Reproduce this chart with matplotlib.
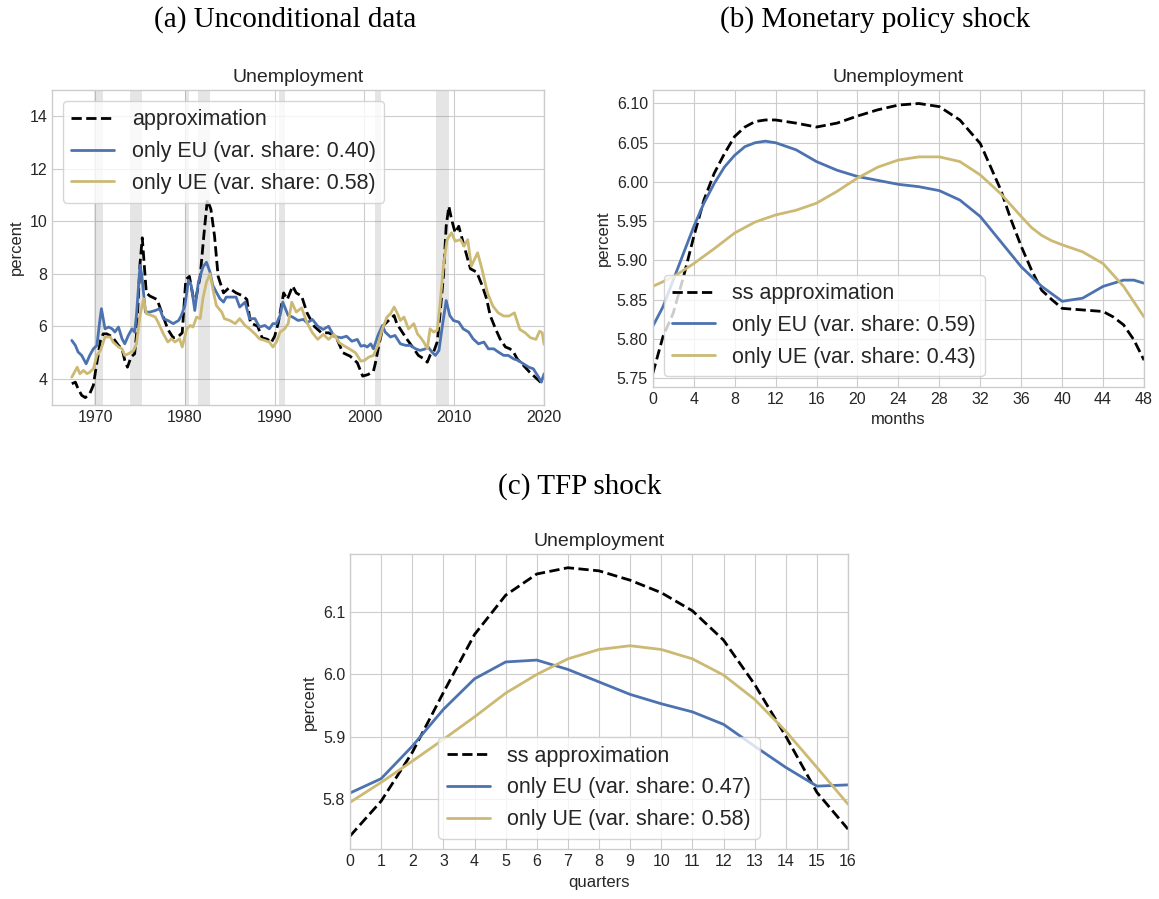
import numpy as np
import matplotlib
matplotlib.use("Agg")
import matplotlib.pyplot as plt

# ---- (a) unconditional data: decimal years and unemployment rates ----
yr_approx = [1967.4, 1967.8, 1968.1, 1968.5, 1968.9, 1969.4, 1969.8, 1970.2, 1970.6, 1970.9,
             1971.3, 1971.9, 1972.2, 1972.6, 1973.0, 1973.3, 1973.6, 1974.0, 1974.4, 1974.6,
             1975.0, 1975.25, 1975.7, 1976.1, 1976.9, 1977.3, 1978.1, 1978.7, 1979.3, 1979.7,
             1980.1, 1980.5, 1980.9, 1981.2, 1981.7, 1982.1, 1982.5, 1982.9, 1983.3, 1983.7,
             1984.3, 1984.9, 1985.7, 1986.5, 1986.9, 1987.3, 1988.1, 1988.6, 1989.2, 1989.6,
             1990.0, 1990.4, 1991.0, 1991.4, 1992.0, 1992.4, 1993.0, 1993.6, 1994.4, 1995.2,
             1996.0, 1996.8, 1997.6, 1998.4, 1999.2, 1999.8, 2000.4, 2001.0, 2001.2, 2001.6,
             2002.1, 2002.9, 2003.3, 2003.6, 2004.2, 2004.7, 2005.5, 2006.0, 2006.6, 2007.0,
             2007.3, 2007.7, 2008.1, 2008.4, 2008.8, 2009.1, 2009.4, 2009.7, 2010.1, 2010.5,
             2011.1, 2011.8, 2012.5, 2013.1, 2013.6, 2014.0, 2014.6, 2015.1, 2015.7, 2016.2,
             2016.6, 2017.0, 2017.7, 2018.4, 2019.2, 2020.0]
u_approx = [3.81, 3.87, 3.62, 3.37, 3.28, 3.43, 3.75, 4.63, 5.46, 5.71,
            5.71, 5.60, 5.46, 5.27, 5.14, 4.70, 4.44, 4.83, 4.95, 5.65,
            8.38, 9.37, 7.27, 7.15, 7.02, 6.64, 5.88, 5.56, 5.62, 5.75,
            7.78, 7.90, 7.15, 7.02, 7.90, 9.43, 10.83, 10.45, 9.43, 7.90,
            7.27, 7.46, 7.27, 7.15, 7.02, 6.13, 6.00, 5.56, 5.50, 5.37,
            5.62, 6.13, 7.27, 7.02, 7.53, 7.27, 7.15, 6.51, 6.00, 5.75,
            5.75, 5.62, 4.99, 4.86, 4.61, 4.10, 4.16, 4.29, 4.57, 5.27,
            6.03, 6.29, 6.41, 6.10, 5.78, 5.52, 5.14, 4.89, 4.76, 4.63,
            4.89, 5.02, 5.40, 6.41, 7.94, 9.81, 10.57, 10.07, 9.56, 9.81,
            9.05, 8.19, 8.06, 7.56, 7.05, 6.41, 5.90, 5.52, 5.21, 5.14,
            5.02, 4.76, 4.51, 4.25, 4.00, 3.75]

yr_eu = [1967.4, 1967.8, 1968.1, 1968.5, 1969.0, 1969.4, 1969.8, 1970.2, 1970.5, 1970.7,
         1971.1, 1971.5, 1971.9, 1972.2, 1972.6, 1973.0, 1973.3, 1973.7, 1974.1, 1974.4,
         1974.6, 1975.0, 1975.2, 1975.6, 1976.1, 1976.7, 1977.2, 1977.6, 1978.1, 1978.7,
         1979.3, 1979.6, 1980.0, 1980.4, 1980.7, 1981.1, 1981.5, 1982.0, 1982.4, 1982.8,
         1983.1, 1983.5, 1983.9, 1984.3, 1984.6, 1985.2, 1985.7, 1986.1, 1986.7, 1987.2,
         1987.8, 1988.3, 1988.9, 1989.4, 1989.8, 1990.2, 1990.6, 1990.9, 1991.5, 1992.0,
         1992.6, 1993.2, 1993.6, 1994.2, 1994.8, 1995.4, 1996.0, 1996.6, 1997.4, 1998.0,
         1998.6, 1999.2, 1999.6, 2000.0, 2000.3, 2000.7, 2001.0, 2001.5, 2002.0, 2002.3,
         2002.9, 2003.4, 2004.0, 2004.6, 2005.1, 2005.7, 2006.2, 2006.8, 2007.1, 2007.5,
         2007.9, 2008.3, 2008.6, 2009.1, 2009.5, 2009.9, 2010.5, 2011.0, 2011.6, 2012.1,
         2012.7, 2013.3, 2013.8, 2014.4, 2014.9, 2015.5, 2016.0, 2016.6, 2017.1, 2017.7,
         2018.3, 2018.8, 2019.4, 2019.7, 2020.0]
u_eu = [5.46, 5.27, 5.02, 4.89, 4.57, 4.89, 5.14, 5.27, 6.16, 6.67,
        5.90, 5.97, 5.90, 5.78, 5.97, 5.52, 5.33, 5.65, 5.90, 5.78,
        6.41, 8.32, 7.94, 6.54, 6.54, 6.60, 6.67, 6.29, 6.22, 6.10,
        6.22, 6.41, 6.79, 7.75, 7.56, 6.60, 7.68, 8.25, 8.44, 8.06,
        7.56, 7.30, 7.05, 6.92, 7.11, 7.11, 7.11, 6.73, 6.92, 6.29,
        6.29, 5.97, 6.03, 5.90, 6.10, 6.10, 6.41, 6.92, 6.41, 6.35,
        6.22, 6.26, 6.13, 6.26, 6.00, 5.88, 6.00, 5.62, 5.56, 5.62,
        5.43, 5.50, 5.24, 5.27, 5.21, 5.33, 5.14, 5.65, 6.03, 5.78,
        5.59, 5.65, 5.33, 5.27, 5.27, 5.14, 5.08, 5.14, 5.21, 5.02,
        4.89, 5.08, 5.84, 6.98, 6.41, 6.22, 6.16, 5.90, 5.78, 5.52,
        5.33, 5.40, 5.14, 5.14, 5.02, 4.89, 4.89, 4.76, 4.70, 4.57,
        4.44, 4.38, 4.06, 3.87, 4.19]

yr_ue = [1967.4, 1968.0, 1968.3, 1968.7, 1969.1, 1969.4, 1969.8, 1970.2, 1970.6, 1971.1,
         1971.7, 1972.0, 1972.6, 1973.0, 1973.3, 1973.7, 1974.3, 1974.6, 1975.0, 1975.4,
         1975.7, 1976.3, 1976.7, 1977.0, 1977.6, 1978.1, 1978.5, 1978.9, 1979.4, 1979.7,
         1980.2, 1980.6, 1980.9, 1981.3, 1981.7, 1982.0, 1982.4, 1982.8, 1983.1, 1983.5,
         1984.1, 1984.4, 1985.0, 1985.6, 1986.1, 1986.7, 1987.2, 1987.8, 1988.3, 1988.9,
         1989.4, 1989.8, 1990.2, 1990.6, 1991.1, 1991.5, 1991.9, 1992.4, 1993.0, 1993.6,
         1994.2, 1994.8, 1995.4, 1996.0, 1996.6, 1997.2, 1997.8, 1998.4, 1999.0, 1999.6,
         2000.0, 2000.5, 2001.0, 2001.5, 2002.0, 2002.5, 2002.9, 2003.3, 2003.6, 2004.0,
         2004.4, 2004.9, 2005.5, 2005.9, 2006.2, 2006.6, 2007.0, 2007.3, 2007.7, 2008.1,
         2008.4, 2008.8, 2009.2, 2009.7, 2010.1, 2010.7, 2011.1, 2011.5, 2011.9, 2012.6,
         2013.1, 2013.7, 2014.3, 2014.9, 2015.5, 2016.1, 2016.7, 2017.3, 2017.9, 2018.5,
         2019.1, 2019.5, 2019.8, 2020.0]
u_ue = [4.06, 4.44, 4.19, 4.32, 4.19, 4.25, 4.38, 4.89, 5.08, 5.59,
        5.59, 5.40, 5.21, 5.14, 4.89, 4.95, 5.08, 5.33, 6.41, 7.05,
        6.48, 6.41, 6.35, 6.16, 5.71, 5.40, 5.52, 5.40, 5.52, 5.21,
        5.90, 6.03, 5.97, 6.35, 6.29, 7.05, 7.68, 8.00, 7.43, 6.79,
        6.54, 6.29, 6.22, 6.10, 6.29, 6.03, 5.90, 5.71, 5.52, 5.46,
        5.40, 5.21, 5.40, 5.78, 5.90, 6.10, 6.92, 6.54, 6.70, 6.13,
        5.75, 5.50, 5.69, 5.50, 5.69, 5.37, 5.24, 5.12, 4.99, 4.67,
        4.70, 4.83, 4.89, 5.27, 5.90, 6.35, 6.48, 6.73, 6.54, 6.22,
        6.35, 5.90, 6.10, 5.71, 5.59, 5.40, 5.14, 5.90, 5.78, 5.84,
        6.79, 8.32, 9.30, 9.56, 9.24, 9.30, 9.05, 9.30, 8.29, 8.80,
        8.16, 7.27, 6.77, 6.51, 6.39, 6.39, 6.51, 5.88, 5.75, 5.56,
        5.50, 5.81, 5.75, 5.31]

# NBER recession periods (start, end)
recessions = [(1969.92, 1970.83), (1973.83, 1975.17), (1980.0, 1980.5), (1981.5, 1982.83),
              (1990.5, 1991.17), (2001.17, 2001.83), (2007.92, 2009.42)]

# ---- (b) monetary policy shock, monthly horizon ----
months_approx = [0, 1, 2, 3, 4, 5, 6, 7, 8, 9, 10, 11, 12, 14, 16, 18, 20, 22, 24, 26, 28, 30,
                 32, 34, 35, 36, 37, 38, 39, 40, 42, 44, 45, 46, 47, 48]
mp_approx = [5.756, 5.803, 5.833, 5.879, 5.930, 5.977, 6.011, 6.036, 6.058, 6.070, 6.077,
             6.079, 6.079, 6.075, 6.070, 6.075, 6.084, 6.092, 6.098, 6.100, 6.096, 6.079,
             6.049, 5.990, 5.952, 5.918, 5.888, 5.862, 5.850, 5.839, 5.837, 5.835, 5.828,
             5.818, 5.799, 5.773]
months_eu = [0, 1, 2, 3, 4, 5, 6, 7, 8, 9, 10, 11, 12, 14, 16, 18, 20, 22, 24, 26, 28, 30,
             32, 34, 36, 38, 40, 42, 44, 46, 47, 48]
mp_eu = [5.816, 5.841, 5.875, 5.909, 5.943, 5.973, 5.998, 6.019, 6.034, 6.045, 6.050,
         6.052, 6.050, 6.041, 6.026, 6.015, 6.007, 6.002, 5.997, 5.994, 5.989, 5.977,
         5.956, 5.924, 5.892, 5.867, 5.848, 5.852, 5.867, 5.875, 5.875, 5.871]
months_ue = [0, 2, 4, 6, 8, 10, 12, 14, 16, 18, 20, 22, 24, 26, 28, 30, 32, 34, 36, 37, 38,
             39, 40, 42, 44, 46, 48]
mp_ue = [5.867, 5.879, 5.896, 5.915, 5.935, 5.949, 5.958, 5.964, 5.973, 5.988, 6.005,
         6.019, 6.028, 6.032, 6.032, 6.026, 6.009, 5.985, 5.956, 5.942, 5.932, 5.925,
         5.920, 5.911, 5.896, 5.867, 5.828]

# ---- (c) TFP shock, quarterly horizon ----
quarters = list(range(17))
tfp_approx = [5.741, 5.797, 5.875, 5.971, 6.064, 6.127, 6.161, 6.171, 6.166, 6.151, 6.131,
              6.102, 6.055, 5.984, 5.901, 5.811, 5.752]
tfp_eu = [5.810, 5.833, 5.885, 5.944, 5.993, 6.020, 6.023, 6.008, 5.988, 5.968, 5.953,
          5.940, 5.920, 5.885, 5.851, 5.821, 5.823]
tfp_ue = [5.795, 5.827, 5.861, 5.896, 5.932, 5.970, 6.000, 6.025, 6.040, 6.046, 6.040,
          6.025, 5.999, 5.960, 5.909, 5.851, 5.792]

plt.style.use("seaborn-v0_8-whitegrid")
plt.rcParams["font.family"] = ["Liberation Sans", "DejaVu Sans"]
plt.rcParams["xtick.labelsize"] = 11.5
plt.rcParams["ytick.labelsize"] = 11.5
plt.rcParams["axes.labelsize"] = 12
plt.rcParams["axes.titlesize"] = 14
plt.rcParams["text.color"] = ".15"

BLUE = "#4C72B0"
GOLD = "#CCB974"
LW = 2.0

fig = plt.figure(figsize=(11.59, 8.99), dpi=100)
ax_a = fig.add_axes([0.0449, 0.5495, 0.4245, 0.3504])
ax_b = fig.add_axes([0.5632, 0.5695, 0.4239, 0.3304])
ax_c = fig.add_axes([0.3020, 0.0551, 0.4297, 0.3283])

serif = ["Liberation Serif", "DejaVu Serif"]
fig.text(285 / 1159, 1 - 20 / 899, "(a) Unconditional data", ha="center", va="center",
         fontsize=21, family=serif, color="black")
fig.text(875 / 1159, 1 - 20 / 899, "(b) Monetary policy shock", ha="center", va="center",
         fontsize=21, family=serif, color="black")
fig.text(580 / 1159, 1 - 487 / 899, "(c) TFP shock", ha="center", va="center",
         fontsize=21, family=serif, color="black")

# (a)
for start, end in recessions:
    ax_a.axvspan(start, end, color="gray", alpha=0.2, lw=0)
ax_a.plot(yr_approx, u_approx, "k--", lw=LW, label="approximation")
ax_a.plot(yr_eu, u_eu, color=BLUE, lw=LW, label="only EU (var. share: 0.40)")
ax_a.plot(yr_ue, u_ue, color=GOLD, lw=LW, label="only UE (var. share: 0.58)")
ax_a.set_xlim(1965.2, 2020)
ax_a.set_ylim(3, 15)
ax_a.set_xticks([1970, 1980, 1990, 2000, 2010, 2020])
ax_a.set_yticks([4, 6, 8, 10, 12, 14])
ax_a.set_ylabel("percent")
ax_a.set_title("Unemployment")
ax_a.legend(loc="upper left", frameon=True, fontsize=15.5)

# (b)
ax_b.plot(months_approx, mp_approx, "k--", lw=LW, label="ss approximation")
ax_b.plot(months_eu, mp_eu, color=BLUE, lw=LW, label="only EU (var. share: 0.59)")
ax_b.plot(months_ue, mp_ue, color=GOLD, lw=LW, label="only UE (var. share: 0.43)")
ax_b.set_xlim(0, 48)
ax_b.set_xticks(np.arange(0, 49, 4))
ax_b.set_yticks([5.75, 5.80, 5.85, 5.90, 5.95, 6.00, 6.05, 6.10])
ax_b.yaxis.set_major_formatter(matplotlib.ticker.FormatStrFormatter("%.2f"))
ax_b.set_xlabel("months")
ax_b.set_ylabel("percent")
ax_b.set_title("Unemployment")
ax_b.legend(loc="lower left", frameon=True, fontsize=15.5)

# (c)
ax_c.plot(quarters, tfp_approx, "k--", lw=LW, label="ss approximation")
ax_c.plot(quarters, tfp_eu, color=BLUE, lw=LW, label="only EU (var. share: 0.47)")
ax_c.plot(quarters, tfp_ue, color=GOLD, lw=LW, label="only UE (var. share: 0.58)")
ax_c.set_xlim(0, 16)
ax_c.set_xticks(quarters)
ax_c.set_yticks([5.8, 5.9, 6.0, 6.1])
ax_c.yaxis.set_major_formatter(matplotlib.ticker.FormatStrFormatter("%.1f"))
ax_c.set_xlabel("quarters")
ax_c.set_ylabel("percent")
ax_c.set_title("Unemployment")
ax_c.legend(loc="lower center", frameon=True, fontsize=15.5)

fig.savefig("out.png", dpi=100)
